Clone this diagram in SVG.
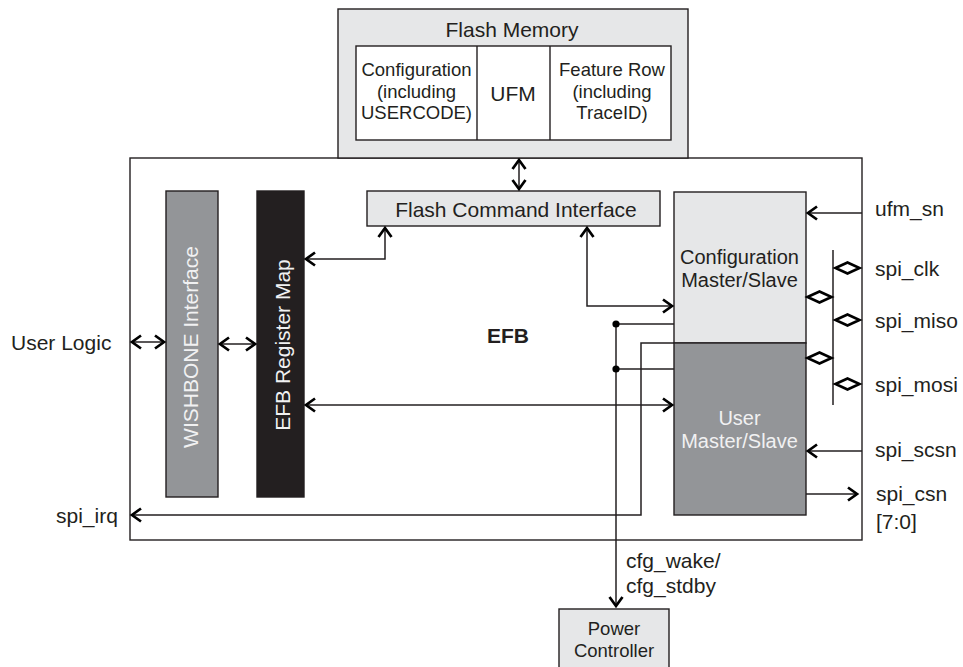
<svg xmlns="http://www.w3.org/2000/svg" width="963" height="667" viewBox="0 0 963 667">
  <defs>
    <style>
      .box { stroke: #231f20; stroke-width: 1.4; }
      .light { fill: #e6e7e8; }
      .mid { fill: #939598; }
      .dark { fill: #231f20; }
      .white { fill: #ffffff; }
      text { font-family: "Liberation Sans", Arial, Helvetica, sans-serif; font-size: 21px; fill: #231f20; }
      .c { text-anchor: middle; }
      .sm { font-size: 18.5px; }
      .ms { font-size: 20px; }
      .inv { fill: #f1f1f2; }
      .bold { font-weight: bold; }
      .wire { fill: none; stroke: #231f20; stroke-width: 1.5; }
      .arr { marker-end: url(#ah); }
      .arr2 { marker-start: url(#ah); marker-end: url(#ah); }
      .dia { fill: #ffffff; stroke: #000; stroke-width: 2.6; stroke-linejoin: miter; }
    </style>
    <marker id="ah" viewBox="-13 -8 16 16" refX="0" refY="0" markerWidth="16" markerHeight="16" markerUnits="userSpaceOnUse" orient="auto-start-reverse">
      <path d="M-10,-6.5 L-1,0 L-10,6.5" fill="none" stroke="#000" stroke-width="2.7"/>
    </marker>
  </defs>

  <rect width="963" height="667" fill="#ffffff"/>

  <!-- EFB outer block -->
  <g id="efb">
    <rect class="box white" x="130" y="158" width="732" height="382"/>
    <text class="c bold" x="508" y="343">EFB</text>
  </g>

  <!-- Flash memory with its three sectors -->
  <g id="flash-memory">
    <rect class="box light" x="338" y="9" width="350" height="149"/>
    <text class="c" x="512" y="37">Flash Memory</text>
    <rect class="box white" x="356" y="46" width="315" height="94"/>
    <line class="box" x1="477" y1="46" x2="477" y2="140"/>
    <line class="box" x1="550" y1="46" x2="550" y2="140"/>
    <text class="c sm" x="416.5" y="76">Configuration</text>
    <text class="c sm" x="416.5" y="98">(including</text>
    <text class="c sm" x="416.5" y="119">USERCODE)</text>
    <text class="c" x="513" y="101">UFM</text>
    <text class="c sm" x="612" y="76">Feature Row</text>
    <text class="c sm" x="612" y="98">(including</text>
    <text class="c sm" x="612" y="119">TraceID)</text>
  </g>

  <g id="flash-command-interface">
    <rect class="box light" x="367" y="191" width="293" height="35"/>
    <text class="c" x="516" y="217">Flash Command Interface</text>
  </g>

  <g id="wishbone-interface">
    <rect class="box mid" x="166" y="191" width="52" height="306"/>
    <text class="c inv" transform="translate(198 347) rotate(-90)">WISHBONE Interface</text>
  </g>

  <g id="efb-register-map">
    <rect class="box dark" x="257" y="191" width="47" height="306"/>
    <text class="c inv" transform="translate(290 345) rotate(-90)">EFB Register Map</text>
  </g>

  <g id="config-master-slave">
    <rect class="box light" x="674" y="192" width="132" height="151"/>
    <text class="c ms" x="739.5" y="264">Configuration</text>
    <text class="c ms" x="739.5" y="287">Master/Slave</text>
  </g>

  <g id="user-master-slave">
    <rect class="box mid" x="674" y="343" width="132" height="172"/>
    <text class="c ms inv" x="739.5" y="425">User</text>
    <text class="c ms inv" x="739.5" y="448">Master/Slave</text>
  </g>

  <g id="power-controller">
    <rect class="box light" x="559" y="609" width="110" height="70"/>
    <text class="c sm" x="614" y="635">Power</text>
    <text class="c sm" x="614" y="657">Controller</text>
  </g>

  <!-- Signal labels -->
  <g id="labels">
    <text x="11" y="350">User Logic</text>
    <text x="56" y="523">spi_irq</text>
    <text x="875" y="216">ufm_sn</text>
    <text x="875" y="276">spi_clk</text>
    <text x="875" y="328">spi_miso</text>
    <text x="875" y="392">spi_mosi</text>
    <text x="875" y="457">spi_scsn</text>
    <text x="876" y="501">spi_csn</text>
    <text x="876" y="529">[7:0]</text>
    <text x="626" y="568">cfg_wake/</text>
    <text x="626" y="593">cfg_stdby</text>
  </g>

  <!-- Connectors -->
  <g id="connectors">
    <line class="wire arr2" x1="519" y1="159" x2="519" y2="190"/>
    <line class="wire arr2" x1="131" y1="342" x2="165" y2="342"/>
    <line class="wire arr2" x1="219" y1="344" x2="256" y2="344"/>
    <polyline class="wire arr2" points="305,259 385,259 385,227"/>
    <polyline class="wire arr2" points="587,227 587,306 673,306"/>
    <line class="wire arr2" x1="305" y1="405" x2="673" y2="405"/>
    <line class="wire arr" x1="862" y1="213" x2="807" y2="213"/>
    <line class="wire arr" x1="862" y1="451" x2="807" y2="451"/>
    <line class="wire arr" x1="806" y1="494" x2="858" y2="494"/>
    <polyline class="wire arr" points="674,343 641,343 641,515 131,515"/>
    <line class="wire" x1="616" y1="324" x2="674" y2="324"/>
    <line class="wire" x1="616" y1="369" x2="674" y2="369"/>
    <line class="wire arr" x1="616" y1="324" x2="616" y2="607"/>
    <circle cx="616" cy="324" r="3.6" fill="#000"/>
    <circle cx="616" cy="369" r="3.6" fill="#000"/>
    <!-- SPI bus with bidirectional taps -->
    <line class="wire" x1="833" y1="250" x2="833" y2="405"/>
    <polygon class="dia" points="835.5,268 847.5,262.5 859.5,268 847.5,273.5"/>
    <polygon class="dia" points="835.5,320 847.5,314.5 859.5,320 847.5,325.5"/>
    <polygon class="dia" points="835.5,384 847.5,378.5 859.5,384 847.5,389.5"/>
    <polygon class="dia" points="807.5,297 819.5,291.5 831.5,297 819.5,302.5"/>
    <polygon class="dia" points="807.5,358 819.5,352.5 831.5,358 819.5,363.5"/>
  </g>
</svg>
